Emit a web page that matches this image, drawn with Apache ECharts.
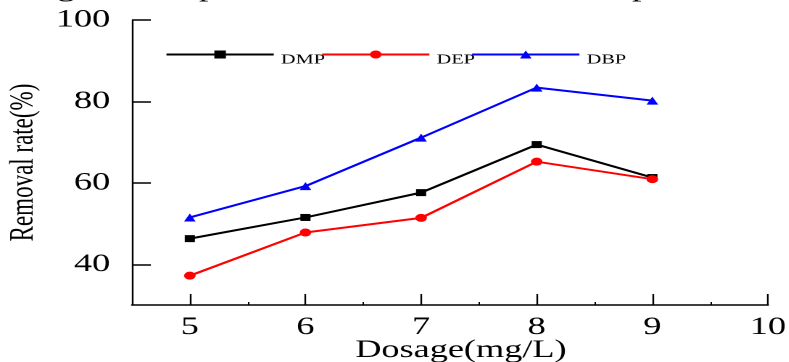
<!DOCTYPE html>
<html>
<head>
<meta charset="utf-8">
<script src="https://cdn.jsdelivr.net/npm/echarts@6/dist/echarts.min.js"></script>
<style>
  html, body { margin: 0; padding: 0; background: #fff; overflow: hidden; }
  #c { height: 362px; transform-origin: 0 0; }
</style>
</head>
<body>
<div id="c"></div>
<script>
// ---- data ----
const dosage = [5, 6, 7, 8, 9];
const dmp = [46.3, 51.5, 57.6, 69.4, 61.3];
const dep = [37.2, 47.8, 51.4, 65.2, 60.9];
const dbp = [51.5, 59.2, 71.1, 83.4, 80.2];
const xTicks = [5, 6, 7, 8, 9, 10];
const xMinorTicks = [5.5, 6.5, 7.5, 8.5, 9.5];
const yTicks = [40, 60, 80, 100];
const seriesNames = ['DMP', 'DEP', 'DBP'];

// the reference figure is stretched horizontally
const S = 1.45;
const W = 789 / S;
const el = document.getElementById('c');
el.style.width = W + 'px';
el.style.transform = 'scaleX(' + S + ')';

const font = 'Liberation Serif';
const pairs = v => dosage.map((x, i) => [x, v[i]]);

const chart = echarts.init(el, null, { renderer: 'canvas', devicePixelRatio: 2, width: W, height: 362 });
chart.setOption({
  backgroundColor: '#ffffff',
  animation: false,
  grid: { left: 132 / S, right: W - 768 / S, top: 20, bottom: 57, outerBoundsMode: 'none', containLabel: false },
  legend: {
    data: seriesNames,
    left: 165 / S,
    top: 42,
    padding: 0,
    itemWidth: 74,
    itemHeight: 10,
    itemGap: -3,
    formatter: name => '\n' + name,
    textStyle: { fontFamily: font, fontSize: 14, lineHeight: 11, color: '#000' }
  },
  graphic: [
    { type: 'text', left: 57 / S, top: -24, style: { text: 'g', font: '26px "Liberation Serif"', fill: '#000' } },
    { type: 'text', left: 199 / S, top: -24, style: { text: 'p', font: '26px "Liberation Serif"', fill: '#000' } },
    { type: 'text', left: 632 / S, top: -24, style: { text: 'p', font: '26px "Liberation Serif"', fill: '#000' } }
  ],
  xAxis: [{
    type: 'value', min: 4.5, max: 10, interval: 0.5,
    name: 'Dosage(mg/L)', nameLocation: 'middle', nameGap: 33, nameMoveOverlap: false,
    nameTextStyle: { fontFamily: font, fontSize: 25, color: '#000', padding: [0, 0, 0, 15] },
    axisLine: { show: true, onZero: false, lineStyle: { color: '#000', width: 1.5 } },
    axisTick: { show: true, inside: true, length: 11, customValues: xTicks, lineStyle: { color: '#000', width: 1.2 } },
    axisLabel: { customValues: xTicks, margin: 10, fontFamily: font, fontSize: 25, color: '#000' },
    splitLine: { show: false }
  }, {
    type: 'value', min: 4.5, max: 10, interval: 0.5, position: 'bottom',
    axisLine: { show: false },
    axisTick: { show: true, inside: true, length: 3, customValues: xMinorTicks, lineStyle: { color: '#000', width: 1 } },
    axisLabel: { show: false },
    splitLine: { show: false }
  }],
  yAxis: {
    type: 'value', min: 30, max: 100, interval: 10,
    name: 'Removal rate(%)', nameLocation: 'middle', nameGap: 63, nameMoveOverlap: false,
    nameTextStyle: { fontFamily: font, fontSize: 23, color: '#000' },
    axisLine: { show: true, onZero: false, lineStyle: { color: '#000', width: 1.2 } },
    axisTick: { show: true, inside: true, length: 13, customValues: yTicks, lineStyle: { color: '#000', width: 1.5 } },
    axisLabel: { customValues: yTicks, margin: 15, fontFamily: font, fontSize: 25, color: '#000' },
    splitLine: { show: false }
  },
  series: [{
    name: 'DMP', type: 'line', data: pairs(dmp),
    symbol: 'rect', symbolSize: 7,
    itemStyle: { color: '#000000' }, lineStyle: { color: '#000000', width: 2 }
  }, {
    name: 'DEP', type: 'line', data: pairs(dep),
    symbol: 'circle', symbolSize: 8,
    itemStyle: { color: '#ff0000' }, lineStyle: { color: '#ff0000', width: 2 }
  }, {
    name: 'DBP', type: 'line', data: pairs(dbp),
    symbol: 'triangle', symbolSize: 8,
    itemStyle: { color: '#0000ff' }, lineStyle: { color: '#0000ff', width: 2 }
  }]
});
</script>
</body>
</html>
